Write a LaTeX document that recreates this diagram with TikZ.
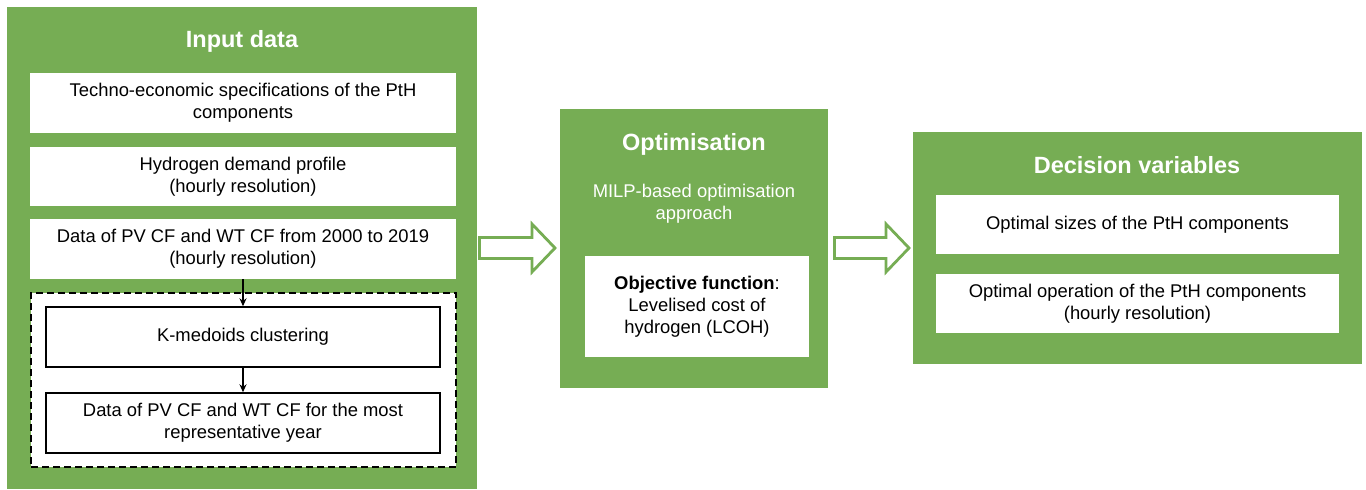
\documentclass[tikz,border=0pt]{standalone}
\usepackage{fontspec}
\setmainfont{Liberation Sans}
\usetikzlibrary{arrows.meta}
\definecolor{pgreen}{RGB}{118,173,84}
\tikzset{
  panel/.style={fill=pgreen, draw=none, inner sep=0pt},
  wbox/.style={fill=white, draw=none, inner sep=0pt, align=center, text=black, font=\fontsize{18.4}{22}\selectfont},
  bbox/.style={wbox, draw=black, line width=1.4pt},
  clusterbox/.style={fill=white, draw=black, line width=1.4pt, dash pattern=on 7pt off 4pt, inner sep=0pt},
  ttl/.style={text=white, inner sep=0pt, font=\fontsize{23.5}{28}\selectfont\bfseries},
  wtxt/.style={text=white, inner sep=0pt, align=center, font=\fontsize{18.4}{22}\selectfont},
  conn/.style={-{Stealth[length=8pt,width=7pt]}, line width=1.4pt},
  bigarrow/.style={draw=pgreen, line width=2.8pt, fill=white, line join=miter}
}
\begin{document}
\begin{tikzpicture}[x=1pt, y=-1pt]
\useasboundingbox (0,0) rectangle (1366,490);
% Input data panel
\node[panel, minimum width=470pt, minimum height=482pt] (inp) at (242,248) {};
\node[ttl] (inpt) at (242,41) {Input data};
\node[wbox, minimum width=426pt, minimum height=60pt] (b1) at (243,103) {Techno-economic specifications of the PtH\\components};
\node[wbox, minimum width=426pt, minimum height=59pt] (b2) at (243,176.5) {Hydrogen demand profile\\(hourly resolution)};
\node[wbox, minimum width=426pt, minimum height=60pt] (b3) at (243,249) {Data of PV CF and WT CF from 2000 to 2019\\(hourly resolution)};
\node[clusterbox, minimum width=425pt, minimum height=174pt] (cl) at (243.5,380) {};
\node[bbox, minimum width=394pt, minimum height=60pt] (km) at (243,337) {K-medoids clustering};
\node[bbox, minimum width=394pt, minimum height=60pt] (rep) at (243,423) {Data of PV CF and WT CF for the most\\representative year};
\draw[conn] (b3.south) -- (km.north);
\draw[conn] (km.south) -- (rep.north);
% Optimisation panel
\node[panel, minimum width=268pt, minimum height=279pt] (opt) at (694,248.5) {};
\node[ttl] (optt) at (694,144) {Optimisation};
\node[wtxt] (milp) at (694,204) {MILP-based optimisation\\approach};
\node[wbox, minimum width=224pt, minimum height=101pt] (obj) at (697,306.5) {\textbf{Objective function}:\\Levelised cost of\\hydrogen (LCOH)};
% Decision variables panel
\node[panel, minimum width=449pt, minimum height=232pt] (dec) at (1137.5,248) {};
\node[ttl] (dect) at (1137,165) {Decision variables};
\node[wbox, minimum width=403pt, minimum height=59pt] (d1) at (1137.5,224.5) {Optimal sizes of the PtH components};
\node[wbox, minimum width=403pt, minimum height=59pt] (d2) at (1137.5,303.5) {Optimal operation of the PtH components\\(hourly resolution)};
% Hollow arrows
\draw[bigarrow] (479.5,237.5) -- (532,237.5) -- (532,224) -- (555,248) -- (532,272) -- (532,258.5) -- (479.5,258.5) -- cycle;
\draw[bigarrow] (834.5,237.5) -- (886,237.5) -- (886,224) -- (909,248) -- (886,272) -- (886,258.5) -- (834.5,258.5) -- cycle;
\end{tikzpicture}
\end{document}
